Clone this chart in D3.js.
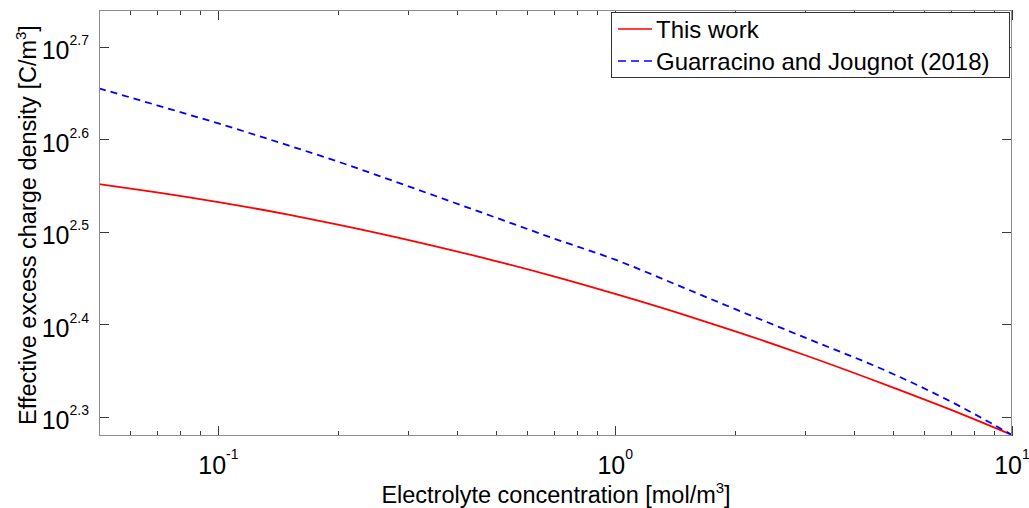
<!DOCTYPE html>
<html>
<head>
<meta charset="utf-8">
<script src="https://cdn.jsdelivr.net/npm/d3@7"></script>
<style>
  html, body { margin: 0; padding: 0; background: #fff; }
  svg { display: block; font-family: "Liberation Sans", Arial, Helvetica, sans-serif; }
</style>
</head>
<body>
<svg id="chart" width="1029" height="508"></svg>
<script>
// ---- data ----
const concentration = [0.05, 0.07, 0.1, 0.15, 0.2, 0.3, 0.5, 0.7, 1, 1.5, 2, 3, 5, 7, 10];   // mol/m^3
const thisWork      = [356.0, 348.8, 340.4, 329.9, 321.9, 309.9, 293.9, 282.9, 270.8, 256.9, 246.9, 232.6, 214.6, 203.0, 190.6]; // C/m^3
const guarracino    = [451.9, 433.2, 414.0, 392.0, 376.5, 354.2, 327.5, 310.9, 294.9, 274.6, 260.9, 243.0, 222.0, 207.2, 190.6]; // C/m^3
const seriesNames   = ["This work", "Guarracino and Jougnot (2018)"];
const xMajorTicks   = [0.1, 1, 10];
const xMajorLabels  = ["-1", "0", "1"];
const xMinorTicks   = [0.05, 0.06, 0.07, 0.08, 0.09, 0.2, 0.3, 0.4, 0.5, 0.6, 0.7, 0.8, 0.9, 2, 3, 4, 5, 6, 7, 8, 9];
const yTickExps     = [2.3, 2.4, 2.5, 2.6, 2.7];
const yTickLabels   = ["2.3", "2.4", "2.5", "2.6", "2.7"];
const xDomain       = [0.05, 10];
const yDomain       = [190.1, 549.2];

// ---- layout ----
const L = 99, R = 1012, T = 10, B = 436;
const svg = d3.select("#chart");
const x = d3.scaleLog().domain(xDomain).range([L, R]);
const y = d3.scaleLog().domain(yDomain).range([B, T]);
const boxColor = "#8c8c8c", tickColor = "#3a3a3a";

svg.append("rect").attr("x", L).attr("y", T).attr("width", R - L).attr("height", B - T).attr("fill", "#fff");

// ticks (inward, on all four sides)
const g = svg.append("g").attr("stroke", tickColor).attr("stroke-width", 1).attr("shape-rendering", "crispEdges");
function xTick(v, len) {
  const px = Math.round(x(v)) + 0.5;
  g.append("line").attr("x1", px).attr("x2", px).attr("y1", B).attr("y2", B - len);
  g.append("line").attr("x1", px).attr("x2", px).attr("y1", T).attr("y2", T + len);
}
xMajorTicks.forEach(v => xTick(v, 10));
xMinorTicks.forEach(v => xTick(v, 5));
yTickExps.forEach(e => {
  const py = Math.round(y(Math.pow(10, e))) + 0.5;
  g.append("line").attr("x1", L).attr("x2", L + 10).attr("y1", py).attr("y2", py);
  g.append("line").attr("x1", R).attr("x2", R - 10).attr("y1", py).attr("y2", py);
});

// curves
const line = d3.line().x(d => x(d[0])).y(d => y(d[1])).curve(d3.curveMonotoneX);
const redData = concentration.map((c, i) => [c, thisWork[i]]);
const blueData = concentration.map((c, i) => [c, guarracino[i]]);
svg.append("clipPath").attr("id", "clip").append("rect")
  .attr("x", L).attr("y", T).attr("width", R - L).attr("height", B - T);
svg.append("path").datum(redData).attr("d", line).attr("fill", "none")
  .attr("stroke", "#ff0000").attr("stroke-width", 1.8).attr("clip-path", "url(#clip)");
svg.append("path").datum(blueData).attr("d", line).attr("fill", "none")
  .attr("stroke", "#0000ff").attr("stroke-width", 1.8).attr("stroke-dasharray", "7,5").attr("clip-path", "url(#clip)");

// axes box
svg.append("rect").attr("x", L + 0.5).attr("y", T + 0.5).attr("width", R - L - 1).attr("height", B - T - 1)
  .attr("fill", "none").attr("stroke", boxColor).attr("stroke-width", 1.2).attr("shape-rendering", "crispEdges");

// x tick labels
xMajorTicks.forEach((v, i) => {
  const t = svg.append("text").attr("x", x(v)).attr("y", 474).attr("text-anchor", "middle").attr("fill", "#000");
  t.append("tspan").attr("font-size", 25).text("10");
  t.append("tspan").attr("font-size", 14).attr("dy", -15).text(xMajorLabels[i]);
});

// y tick labels
yTickExps.forEach((e, i) => {
  const py = y(Math.pow(10, e));
  const t = svg.append("text").attr("x", 89).attr("y", py + 12.5).attr("text-anchor", "end").attr("fill", "#000");
  t.append("tspan").attr("font-size", 25).text("10");
  t.append("tspan").attr("font-size", 14).attr("dy", -14).text(yTickLabels[i]);
});

// axis titles
const xt = svg.append("text").attr("x", 556).attr("y", 503).attr("text-anchor", "middle")
  .attr("font-size", 23.5).attr("fill", "#000");
xt.append("tspan").text("Electrolyte concentration [mol/m");
xt.append("tspan").attr("font-size", 15).attr("dy", -10).text("3");
xt.append("tspan").attr("dy", 10).text("]");

const yt = svg.append("text").attr("transform", "translate(36,225) rotate(-90)").attr("text-anchor", "middle")
  .attr("font-size", 23.5).attr("fill", "#000");
yt.append("tspan").text("Effective excess charge density [C/m");
yt.append("tspan").attr("font-size", 15).attr("dy", -10).text("3");
yt.append("tspan").attr("dy", 10).text("]");

// legend
const lg = svg.append("g");
lg.append("rect").attr("x", 611.5).attr("y", 12.5).attr("width", 398).attr("height", 65)
  .attr("fill", "#fff").attr("stroke", "#333").attr("stroke-width", 1).attr("shape-rendering", "crispEdges");
const legendItems = [
  { name: seriesNames[0], color: "#ff0000", dash: null, cy: 29 },
  { name: seriesNames[1], color: "#0000ff", dash: "8,5", cy: 61 }
];
legendItems.forEach(it => {
  lg.append("line").attr("x1", 618).attr("x2", 652).attr("y1", it.cy).attr("y2", it.cy)
    .attr("stroke", it.color).attr("stroke-width", 1.6).attr("stroke-dasharray", it.dash);
  lg.append("text").attr("x", 656).attr("y", it.cy + 8.5).attr("font-size", 24).attr("fill", "#000").text(it.name);
});
</script>
</body>
</html>
